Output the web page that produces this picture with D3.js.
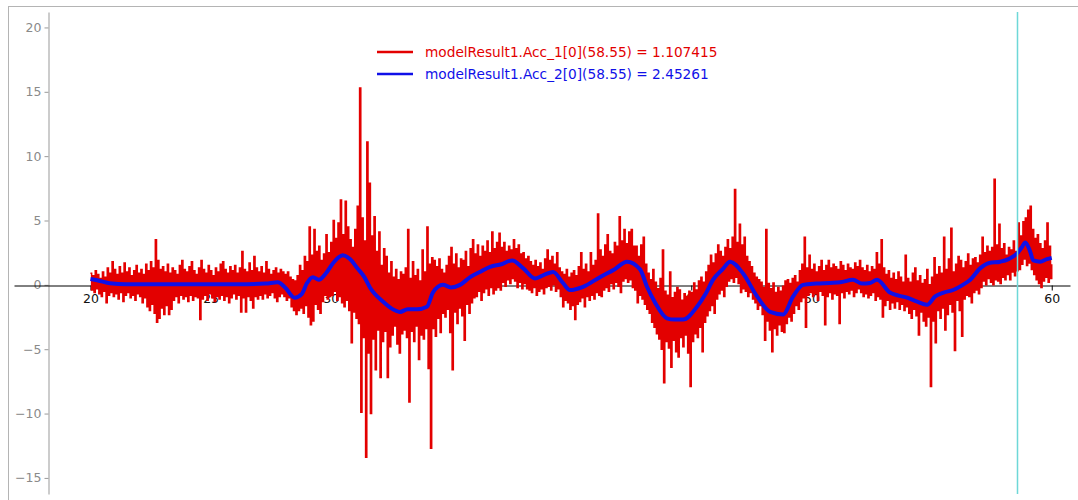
<!DOCTYPE html>
<html>
<head>
<meta charset="utf-8">
<script src="https://cdn.jsdelivr.net/npm/d3@7"></script>
<style>
  body { margin: 0; background: #fff; }
  svg { display: block; font-family: "DejaVu Sans", Verdana, sans-serif; }
</style>
</head>
<body>
<svg id="chart" width="1078" height="500"></svg>
<script>
// Acc_1 (red): sampled every 0.05 s from t = 20, one row per second (peak, trough pairs)
const redVals = [
  0.9,-0.4, 0.7,-0.6, 1.1,-0.3, 0.8,-0.7, 0.5,-0.9, 1.0,-0.5, 0.6,-1.4, 1.3,-0.8, 0.9,-0.6, 1.8,-0.9,
  1.2,-0.7, 0.8,-1.1, 1.4,-0.6, 0.9,-1.3, 1.7,-0.8, 1.0,-0.6, 1.3,-1.0, 0.7,-0.8, 1.1,-1.2, 1.5,-0.7,
  0.9,-0.9, 1.2,-1.4, 0.8,-1.0, 1.6,-1.7, 1.1,-2.0, 1.8,-1.5, 1.3,-2.2, 3.5,-2.9, 1.9,-2.6, 1.2,-1.8,
  1.4,-2.3, 1.0,-1.6, 1.6,-2.3, 0.9,-1.9, 1.3,-1.2, 1.1,-0.9, 0.8,-1.4, 1.5,-0.8, 1.9,-1.1, 1.2,-0.9,
  1.0,-1.3, 1.4,-0.8, 1.8,-1.2, 1.1,-0.9, 0.8,-1.0, 1.3,-2.7, 1.9,-1.1, 1.2,-0.8, 0.9,-1.2, 1.5,-0.7,
  1.1,-1.0, 0.7,-1.3, 1.3,-0.9, 1.0,-1.1, 1.6,-0.8, 1.8,-1.2, 1.2,-0.9, 0.9,-1.4, 1.4,-1.0, 1.1,-0.7,
  1.5,-1.1, 0.9,-0.8, 1.3,-2.1, 2.6,-1.0, 1.2,-2.1, 1.0,-0.9, 1.7,-1.2, 1.1,-1.8, 2.2,-0.9, 1.3,-1.1,
  1.0,-0.8, 1.4,-1.1, 0.9,-0.7, 1.8,-1.0, 1.2,-0.8, 0.8,-0.6, 1.1,-1.0, 1.3,-1.3, 0.9,-0.9, 1.2,-0.7,
  1.0,-0.9, 0.8,-1.2, 1.0,-1.0, 0.6,-1.7, 0.4,-2.0, 0.3,-2.3, 0.7,-2.0, 1.5,-1.8, 1.1,-2.2, 2.2,-1.6,
  1.8,-2.5, 4.5,-3.1, 2.3,-2.8, 4.3,-1.5, 2.6,-1.9, 3.0,-2.2, 1.9,-1.3, 2.4,-0.8, 3.9,-1.1, 2.5,-0.9,
  3.3,-0.8, 5.0,-0.5, 3.6,-1.2, 4.8,-0.9, 6.6,-1.4, 3.9,-1.7, 6.5,-1.2, 4.5,-2.0, 3.5,-4.5, 2.9,-2.1,
  4.3,-2.6, 6.1,-3.0, 15.3,-9.9, 5.2,-4.1, 3.4,-13.4, 11.1,-5.3, 7.9,-10.0, 3.8,-4.2, 5.3,-6.6, 2.6,-3.5,
  4.1,-7.2, 1.5,-4.4, 2.8,-3.6, 2.2,-7.2, 0.9,-4.8, 1.8,-3.9, 0.6,-3.2, 1.2,-4.6, 0.4,-5.3, 1.0,-3.8,
  0.8,-3.5, 1.3,-4.1, 4.3,-9.1, 0.5,-3.6, 1.8,-4.4, 0.7,-3.2, 1.2,-5.8, 0.3,-3.9, 2.7,-4.2, 1.0,-3.4,
  4.5,-6.5, 1.6,-12.7, 2.1,-3.4, 1.9,-4.0, 1.4,-2.6, 2.0,-3.7, 1.2,-2.2, 0.9,-2.5, 1.5,-1.9, 2.2,-3.7,
  2.9,-6.6, 1.6,-2.1, 2.4,-3.0, 1.3,-1.8, 2.0,-2.4, 1.9,-4.3, 2.6,-1.5, 1.4,-2.2, 2.8,-1.4, 3.5,-1.0,
  2.4,-0.9, 3.1,-0.5, 2.2,-1.2, 3.0,-0.6, 2.6,-0.3, 3.4,-0.8, 2.5,-0.2, 4.1,-0.7, 2.8,-0.4, 3.3,-0.2,
  4.0,-0.4, 2.9,0.2, 3.3,-0.1, 2.6,0.4, 3.0,0.1, 2.7,0.5, 3.5,0.3, 2.8,-0.2, 3.1,0.2, 2.4,-0.3,
  2.5,0.1, 2.0,-0.3, 2.2,-0.4, 1.8,-0.6, 1.5,-0.2, 1.9,-0.8, 1.4,-0.5, 1.7,-0.3, 1.2,-0.7, 2.0,-0.2,
  2.7,-0.1, 1.9,-0.4, 2.2,0.0, 1.6,-0.5, 2.5,-0.3, 1.3,-0.9, 1.0,-1.7, 0.8,-1.2, 1.2,-1.4, 0.6,-1.9,
  0.9,-1.6, 1.1,-2.7, 0.7,-1.5, 1.4,-1.3, 2.5,-1.0, 1.2,-1.7, 1.6,-0.9, 1.0,-1.2, 2.5,-0.8, 1.5,-1.1,
  1.9,-0.6, 5.5,-0.8, 2.7,-0.9, 2.2,-0.4, 3.1,-0.2, 3.9,-0.5, 2.6,0.1, 2.4,-0.3, 3.3,0.2, 3.0,-0.1,
  5.3,-0.6, 3.4,0.3, 4.3,0.5, 3.2,0.2, 4.1,0.4, 4.3,-0.2, 3.0,-0.4, 3.0,-1.4, 2.2,-0.8, 3.1,-1.1,
  3.7,-1.5, 1.6,-1.9, 0.9,-2.2, 0.4,-2.9, 1.2,-3.3, 0.2,-3.8, -0.3,-4.2, 0.5,-5.0, 2.7,-7.6, -0.5,-4.4,
  -0.8,-4.9, 1.0,-6.4, -1.0,-4.3, -0.6,-5.2, -0.2,-5.6, -0.4,-4.1, -1.2,-4.8, -0.7,-3.9, -0.9,-5.3, -0.5,-7.9,
  -0.6,-4.4, 0.15,-3.8, -0.4,-4.1, 0.3,-3.3, 0.6,-5.2, 0.2,-2.9, 1.0,-2.4, 1.5,-2.0, 2.3,-1.6, 1.7,-2.2,
  2.4,-1.1, 3.1,-0.7, 2.6,-0.4, 2.2,-0.9, 2.9,-0.1, 3.5,0.3, 2.8,0.5, 3.7,0.2, 7.4,0.6, 3.3,0.1,
  4.7,-0.6, 3.1,-0.3, 3.7,-0.5, 2.2,-0.9, 1.8,-0.6, 1.4,-1.1, 0.9,-1.4, 0.6,-1.9, 0.4,-1.6, 0.2,-2.3,
  -0.2,-4.3, 4.3,-2.8, 0.1,-3.5, -0.3,-5.2, 0.15,-3.4, -0.6,-3.9, -0.2,-3.1, -0.5,-3.6, -0.1,-3.7, 0.3,-3.0,
  0.4,-2.5, 0.1,-2.8, 0.5,-2.2, 0.7,-1.6, 0.2,-1.9, 1.1,-1.3, 1.6,-1.0, 3.7,-3.3, 1.3,-0.8, 2.3,-0.6,
  1.2,-0.9, 1.6,-0.7, 1.0,-1.2, 1.4,-0.5, 1.9,-0.8, 1.1,-3.1, 1.5,-0.9, 1.9,-0.6, 1.3,-1.1, 1.6,-0.7,
  1.4,-0.8, 1.2,-3.0, 1.8,-0.6, 1.5,-1.0, 1.1,-0.5, 1.6,-0.7, 1.3,-0.4, 1.2,-0.9, 1.7,-0.6, 1.4,-0.3,
  1.9,-0.6, 1.3,-0.9, 1.1,-0.7, 1.5,-1.0, 1.0,-0.8, 1.4,-0.6, 1.2,-1.2, 2.5,-0.9, 1.6,-1.1, 3.5,-2.5,
  1.3,-1.6, 0.8,-1.2, 1.1,-1.9, 0.5,-1.4, 0.9,-1.8, 0.4,-1.3, 1.0,-1.9, 0.6,-1.5, 0.2,-2.0, 2.3,-1.7,
  0.5,-2.2, 0.2,-2.6, 0.9,-1.9, 1.3,-2.4, 0.3,-3.9, 0.7,-2.1, 0.1,-2.8, 0.4,-3.2, 1.2,-2.5, 0.0,-7.9,
  0.6,-2.8, 2.1,-4.5, 0.8,-2.0, 1.4,-2.6, 0.9,-1.8, 3.7,-3.5, 1.2,-2.3, 2.0,-1.5, 4.4,-2.1, 1.0,-5.1,
  1.6,-1.2, 2.2,-2.0, 1.9,-4.0, 1.3,-1.1, 1.8,-0.8, 2.4,-0.9, 1.5,-1.4, 2.0,-0.6, 2.1,-0.4, 1.7,-0.7,
  2.3,-0.2, 3.7,0.3, 2.5,0.0, 3.0,0.5, 2.6,0.2, 2.9,0.0, 8.2,0.4, 3.1,0.3, 4.7,0.1, 2.8,0.6,
  3.2,0.4, 2.3,0.8, 2.9,0.4, 2.7,1.0, 3.4,0.7, 2.6,1.1, 4.8,1.2, 3.8,1.6, 4.9,2.0, 5.2,1.5,
  5.8,1.7, 6.1,1.2, 4.3,0.8, 3.6,0.4, 3.9,0.1, 3.2,-0.2, 2.8,0.3, 3.4,0.6, 4.8,0.2, 3.0,0.5,
  1.6
];
const redStart = 20, redStep = 0.05;

// Acc_2 (blue): smoothed signal, read at irregular times
const blueT = [20, 20.4, 20.8, 21.5, 22.5, 23.5, 24.5, 25.5, 26.5, 27.3, 27.8, 28.1, 28.5, 28.8, 29.0,
  29.26, 29.5, 29.8, 30.1, 30.5, 30.8, 31.1, 31.4, 31.63, 32.17, 32.5, 32.88, 33.2, 33.59, 34.0, 34.25,
  34.67, 35.0, 35.38, 35.8, 36.2, 36.63, 37.1, 37.55, 38.0, 38.5, 38.9, 39.25, 39.66, 39.95, 40.5, 41.2,
  41.8, 42.33, 42.87, 43.16, 43.5, 43.99, 44.3, 44.66, 45.24, 45.6, 45.91, 46.3, 46.62, 47.15, 47.74,
  48.28, 48.82, 49.24, 49.65, 50.2, 50.77, 51.2, 51.73, 52.1, 52.44, 52.73, 53.27, 53.98, 54.4, 54.81,
  55.15, 55.5, 55.9, 56.3, 56.61, 57.03, 57.4, 57.86, 58.2, 58.56, 58.75, 58.9, 59.1, 59.23, 59.52, 59.8, 60.0];
const blueV = [0.45, 0.3, 0.12, 0.05, 0.05, 0.05, 0.05, 0.05, 0.05, 0.1, 0.2, -0.2, -1.0, -0.7, 0.1,
  0.6, 0.4, 0.9, 1.7, 2.3, 2.0, 1.3, 0.6, -0.2, -1.3, -1.8, -2.1, -1.9, -1.9, -1.7, -0.6,
  0, -0.2, 0, 0.6, 1.0, 1.4, 1.6, 1.9, 1.3, 0.5, 0.8, 1.0, 0.15, -0.4, -0.15, 0.6,
  1.2, 1.8, 1.2, -0.15, -1.4, -2.6, -2.7, -2.7, -1.7, -0.7, 0.4, 1.2, 1.8, 0.9, -0.9,
  -2.1, -2.3, -0.9, 0, 0.1, 0.15, 0.2, 0.4, 0.1, 0.15, 0.4, -0.6, -1.0, -1.3, -1.55,
  -0.9, -0.6, -0.4, 0, 0.4, 1.3, 1.7, 1.8, 2.0, 2.45, 2.9, 3.3, 2.6, 1.9, 1.8, 2.0, 2.1];

const yTicks = [-15, -10, -5, 0, 5, 10, 15, 20];
const xTicks = [20, 25, 30, 35, 40, 45, 50, 55, 60];
const cursorT = 58.55;
const legendLabels = [
  "modelResult1.Acc_1[0](58.55) = 1.107415",
  "modelResult1.Acc_2[0](58.55) = 2.45261"
];

const red = "#e30000", blue = "#1010e8";

const svg = d3.select("#chart");

// frame
svg.append("rect")
  .attr("x", 8.5).attr("y", 6.5)
  .attr("width", 1078).attr("height", 500)
  .attr("fill", "none").attr("stroke", "#b4b4b4");

const x = d3.scaleLinear().domain([16.82, 60.76]).range([14, 1070]);
const y = d3.scaleLinear().domain([-16.25, 21.2]).range([494, 12]);

// y axis
const yAxis = svg.append("g")
  .attr("transform", "translate(48.5,0)")
  .call(d3.axisLeft(y).tickValues(yTicks).tickSizeInner(4).tickSizeOuter(0).tickPadding(3));
yAxis.select(".domain").attr("stroke", "#999");
yAxis.selectAll(".tick line").attr("stroke", "#999");
yAxis.selectAll("text").attr("fill", "#8a8a8a").style("font-size", "12.5px")
  .style("font-family", "DejaVu Sans, sans-serif");

// x axis along y = 0
const xAxis = svg.append("g")
  .attr("transform", `translate(0,${Math.round(y(0)) + 0.5})`)
  .call(d3.axisBottom(x).tickValues(xTicks).tickSizeInner(5).tickSizeOuter(0).tickPadding(4));
xAxis.select(".domain").attr("stroke", "#000");
xAxis.selectAll(".tick line").attr("stroke", "#000");
xAxis.selectAll("text").attr("fill", "#111").style("font-size", "12.5px")
  .style("font-family", "DejaVu Sans, sans-serif");

// red series
const redLine = d3.line()
  .x((d, i) => x(redStart + i * redStep))
  .y(d => y(d))
  .curve(d3.curveStepAfter);
svg.append("path")
  .datum(redVals)
  .attr("d", redLine)
  .attr("fill", "none")
  .attr("stroke", red)
  .attr("stroke-width", 1.5);

// blue series
const blueData = blueT.map((t, i) => ({ t, v: blueV[i] }));
svg.append("path")
  .datum(blueData)
  .attr("d", d3.line().x(d => x(d.t)).y(d => y(d.v)).curve(d3.curveMonotoneX))
  .attr("fill", "none")
  .attr("stroke", blue)
  .attr("stroke-width", 4)
  .attr("stroke-linejoin", "round");

// cursor
svg.append("line")
  .attr("x1", Math.round(x(cursorT)) + 0.5).attr("x2", Math.round(x(cursorT)) + 0.5)
  .attr("y1", y.range()[1]).attr("y2", y.range()[0])
  .attr("stroke", "#6ed8d8").attr("stroke-width", 1.5);

// legend
const legend = svg.append("g").attr("transform", "translate(377,52)");
[red, blue].forEach((c, i) => {
  const row = legend.append("g").attr("transform", `translate(0,${i * 22})`);
  row.append("line").attr("x1", 0).attr("x2", 36).attr("y1", 0).attr("y2", 0)
    .attr("stroke", c).attr("stroke-width", 2.5);
  row.append("text").attr("x", 48).attr("y", 5)
    .attr("fill", c).style("font-size", "13.7px")
    .text(legendLabels[i]);
});
</script>
</body>
</html>
